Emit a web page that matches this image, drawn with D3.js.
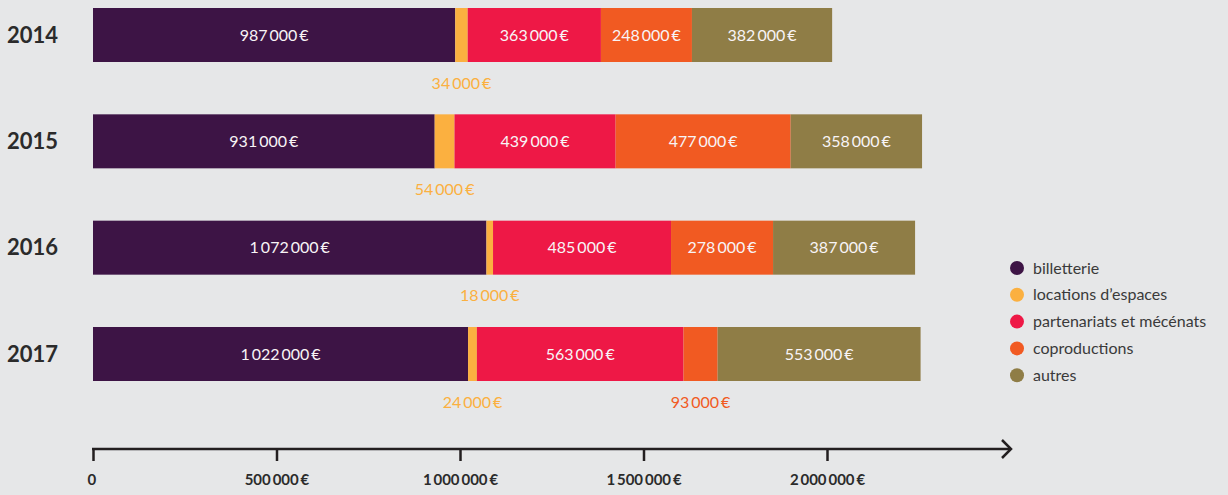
<!DOCTYPE html>
<html><head><meta charset="utf-8">
<script src="https://cdn.jsdelivr.net/npm/d3@7"></script>
<style>
html,body{margin:0;padding:0;background:#e6e7e8;}
svg{display:block;font-family:Lato,"Open Sans",sans-serif;}
</style></head><body>
<svg id="c" width="1228" height="495"></svg>
<script>
const years = ["2014","2015","2016","2017"];
const seriesNames = ["billetterie","locations d’espaces","partenariats et mécénats","coproductions","autres"];
const seriesColors = ["#3d1445","#fbb040","#ee1846","#f15a22","#8f7d46"];
const billetterie = [987000, 931000, 1072000, 1022000];
const locations = [34000, 54000, 18000, 24000];
const partenariats = [363000, 439000, 485000, 563000];
const coproductions = [248000, 477000, 278000, 93000];
const autres = [382000, 358000, 387000, 553000];
const tickValues = [0, 500000, 1000000, 1500000, 2000000];

const values = [billetterie, locations, partenariats, coproductions, autres];
const svg = d3.select("#c");
const x = d3.scaleLinear().domain([0, 2000000]).range([93, 827]);
const yPos = d3.scaleLinear().domain([0, 3]).range([8, 327]);
const barH = 54;

const fmtNum = v => d3.format(",")(v).replace(/,/g, "\u2009");
const fmtEur = v => fmtNum(v) + "\u2009€";

const stacked = years.map((yr, i) => {
  let acc = 0;
  return values.map((arr, k) => {
    const seg = {year: yr, i, k, v: arr[i], x0: acc, x1: acc + arr[i]};
    acc += arr[i];
    return seg;
  });
});

const g = svg.append("g");
stacked.forEach((row, i) => {
  const yy = yPos(i);
  g.append("text").attr("x", 7).attr("y", yy + barH/2).attr("dy", "0.35em")
    .attr("font-size", 22).attr("font-weight", 700).attr("fill", "#2b2b2b").text(years[i]);
  row.forEach(seg => {
    g.append("rect").attr("x", x(seg.x0)).attr("y", yy)
      .attr("width", x(seg.x1) - x(seg.x0)).attr("height", barH)
      .attr("fill", seriesColors[seg.k]);
    const w = x(seg.x1) - x(seg.x0);
    const cx = (x(seg.x0) + x(seg.x1)) / 2;
    if (w > 60) {
      g.append("text").attr("x", cx).attr("y", yy + barH/2).attr("dy", "0.35em")
        .attr("text-anchor", "middle").attr("font-size", 16).attr("fill", "#f8f4f6")
        .text(fmtEur(seg.v));
    } else {
      g.append("text").attr("x", cx).attr("y", yy + barH + 21).attr("dy", "0.35em")
        .attr("text-anchor", "middle").attr("font-size", 16).attr("fill", seriesColors[seg.k])
        .text(fmtEur(seg.v));
    }
  });
});

// axis
const axisY = 449;
const axis = d3.axisBottom(x).tickValues(tickValues).tickSize(12).tickSizeOuter(0)
  .tickFormat(v => v === 0 ? "0" : fmtEur(v));
const ag = svg.append("g").attr("transform", `translate(0,${axisY})`).call(axis);
ag.select(".domain").remove();
ag.selectAll(".tick line").attr("stroke", "#231f20").attr("stroke-width", 2.5);
ag.selectAll(".tick text").attr("font-size", 15).attr("font-weight", 700)
  .attr("fill", "#2b2b2b").attr("y", 25).attr("font-family", "Lato,sans-serif");
ag.selectAll(".tick").filter(d => d === 0).select("text").attr("text-anchor", "start").attr("x", -6);
svg.append("line").attr("x1", 92).attr("x2", 1011).attr("y1", axisY).attr("y2", axisY)
  .attr("stroke", "#231f20").attr("stroke-width", 2.5);
svg.append("path").attr("d", `M1002,${axisY-9} L1011,${axisY} L1002,${axisY+9}`)
  .attr("fill", "none").attr("stroke", "#231f20").attr("stroke-width", 2.5);

// legend
const lg = svg.append("g");
seriesNames.forEach((n, k) => {
  const ly = 268 + k * 26.8;
  lg.append("circle").attr("cx", 1017).attr("cy", ly).attr("r", 7).attr("fill", seriesColors[k]);
  lg.append("text").attr("x", 1033).attr("y", ly).attr("dy", "0.35em")
    .attr("font-size", 16).attr("fill", "#3a3a3a").text(n);
});
</script>
</body></html>
